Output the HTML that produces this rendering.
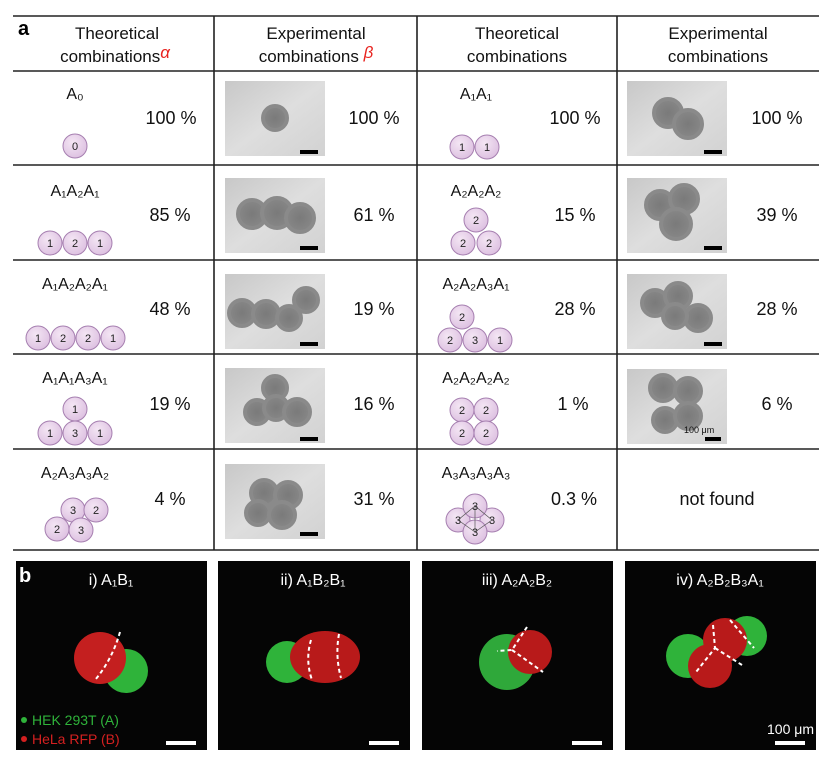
<!DOCTYPE html>
<html><head><meta charset="utf-8"><style>
html,body{margin:0;padding:0;background:#fff}
svg{display:block}
text{font-family:"Liberation Sans",Arial,sans-serif}
</style></head><body>
<svg width="831" height="760" viewBox="0 0 831 760" xmlns="http://www.w3.org/2000/svg">
<defs>
<radialGradient id="cell" cx="0.4" cy="0.35" r="0.7"><stop offset="0" stop-color="#f4e6f4"/><stop offset="1" stop-color="#dcbfe0"/></radialGradient>
<linearGradient id="bg" x1="0" y1="0" x2="1" y2="1"><stop offset="0" stop-color="#c8c8c8"/><stop offset="0.5" stop-color="#dedede"/><stop offset="1" stop-color="#d2d2d2"/></linearGradient>
<radialGradient id="blob" cx="0.5" cy="0.5" r="0.5"><stop offset="0" stop-color="#7a7a7a"/><stop offset="0.85" stop-color="#858585"/><stop offset="1" stop-color="#8c8c8c"/></radialGradient>
</defs>
<style>
.c{fill:url(#cell);stroke:#a67fb0;stroke-width:1}
.n{font-size:11px;text-anchor:middle;fill:#222}
.h{font-size:17px;text-anchor:middle;fill:#111}
.p{font-size:18px;text-anchor:middle;fill:#111}
.nm{font-size:16px;text-anchor:middle;fill:#111}
.b{fill:url(#blob);stroke:#8a8a8a;stroke-width:4}
</style>
<g stroke="#222" stroke-width="1.6">
<line x1="13" y1="16" x2="819" y2="16"/>
<line x1="13" y1="71" x2="819" y2="71"/>
<line x1="13" y1="165" x2="819" y2="165"/>
<line x1="13" y1="260" x2="819" y2="260"/>
<line x1="13" y1="354" x2="819" y2="354"/>
<line x1="13" y1="449" x2="819" y2="449"/>
<line x1="13" y1="550" x2="819" y2="550"/>
<line x1="214" y1="16" x2="214" y2="550"/>
<line x1="417" y1="16" x2="417" y2="550"/>
<line x1="617" y1="16" x2="617" y2="550"/>
</g>
<text x="18" y="35" font-size="20" font-weight="bold">a</text>
<text class="h" x="117" y="39">Theoretical</text>
<text class="h" x="115" y="62">combinations<tspan fill="#e8231f" font-style="italic" dy="-4">α</tspan></text>
<text class="h" x="316" y="39">Experimental</text>
<text class="h" x="316" y="62">combinations <tspan fill="#e8231f" font-style="italic" dy="-4">β</tspan></text>
<text class="h" x="517" y="39">Theoretical</text>
<text class="h" x="517" y="62">combinations</text>
<text class="h" x="718" y="39">Experimental</text>
<text class="h" x="718" y="62">combinations</text>

<text class="nm" x="75" y="99">A₀</text>
<text class="nm" x="75" y="196">A₁A₂A₁</text>
<text class="nm" x="75" y="289">A₁A₂A₂A₁</text>
<text class="nm" x="75" y="383">A₁A₁A₃A₁</text>
<text class="nm" x="75" y="478">A₂A₃A₃A₂</text>
<text class="nm" x="476" y="99">A₁A₁</text>
<text class="nm" x="476" y="196">A₂A₂A₂</text>
<text class="nm" x="476" y="289">A₂A₂A₃A₁</text>
<text class="nm" x="476" y="383">A₂A₂A₂A₂</text>
<text class="nm" x="476" y="478">A₃A₃A₃A₃</text>

<text class="p" x="171" y="124">100 %</text>
<text class="p" x="170" y="221">85 %</text>
<text class="p" x="170" y="315">48 %</text>
<text class="p" x="170" y="410">19 %</text>
<text class="p" x="170" y="505">4 %</text>
<text class="p" x="374" y="124">100 %</text>
<text class="p" x="374" y="221">61 %</text>
<text class="p" x="374" y="315">19 %</text>
<text class="p" x="374" y="410">16 %</text>
<text class="p" x="374" y="505">31 %</text>
<text class="p" x="575" y="124">100 %</text>
<text class="p" x="575" y="221">15 %</text>
<text class="p" x="575" y="315">28 %</text>
<text class="p" x="573" y="410">1 %</text>
<text class="p" x="574" y="505">0.3 %</text>
<text class="p" x="777" y="124">100 %</text>
<text class="p" x="777" y="221">39 %</text>
<text class="p" x="777" y="315">28 %</text>
<text class="p" x="777" y="410">6 %</text>
<text class="p" x="717" y="505">not found</text>

<g>
<circle class="c" cx="75" cy="146" r="12"/><text class="n" x="75" y="150">0</text>
<circle class="c" cx="50" cy="243" r="12"/><circle class="c" cx="75" cy="243" r="12"/><circle class="c" cx="100" cy="243" r="12"/>
<text class="n" x="50" y="247">1</text><text class="n" x="75" y="247">2</text><text class="n" x="100" y="247">1</text>
<circle class="c" cx="38" cy="338" r="12"/><circle class="c" cx="63" cy="338" r="12"/><circle class="c" cx="88" cy="338" r="12"/><circle class="c" cx="113" cy="338" r="12"/>
<text class="n" x="38" y="342">1</text><text class="n" x="63" y="342">2</text><text class="n" x="88" y="342">2</text><text class="n" x="113" y="342">1</text>
<circle class="c" cx="75" cy="409" r="12"/><circle class="c" cx="50" cy="433" r="12"/><circle class="c" cx="75" cy="433" r="12"/><circle class="c" cx="100" cy="433" r="12"/>
<text class="n" x="75" y="413">1</text><text class="n" x="50" y="437">1</text><text class="n" x="75" y="437">3</text><text class="n" x="100" y="437">1</text>
<circle class="c" cx="73" cy="510" r="12"/><circle class="c" cx="96" cy="510" r="12"/><circle class="c" cx="57" cy="529" r="12"/><circle class="c" cx="81" cy="530" r="12"/>
<text class="n" x="73" y="514">3</text><text class="n" x="96" y="514">2</text><text class="n" x="57" y="533">2</text><text class="n" x="81" y="534">3</text>

<circle class="c" cx="462" cy="147" r="12"/><circle class="c" cx="487" cy="147" r="12"/>
<text class="n" x="462" y="151">1</text><text class="n" x="487" y="151">1</text>
<circle class="c" cx="476" cy="220" r="12"/><circle class="c" cx="463" cy="243" r="12"/><circle class="c" cx="489" cy="243" r="12"/>
<text class="n" x="476" y="224">2</text><text class="n" x="463" y="247">2</text><text class="n" x="489" y="247">2</text>
<circle class="c" cx="462" cy="317" r="12"/><circle class="c" cx="450" cy="340" r="12"/><circle class="c" cx="475" cy="340" r="12"/><circle class="c" cx="500" cy="340" r="12"/>
<text class="n" x="462" y="321">2</text><text class="n" x="450" y="344">2</text><text class="n" x="475" y="344">3</text><text class="n" x="500" y="344">1</text>
<circle class="c" cx="462" cy="410" r="12"/><circle class="c" cx="486" cy="410" r="12"/><circle class="c" cx="462" cy="433" r="12"/><circle class="c" cx="486" cy="433" r="12"/>
<text class="n" x="462" y="414">2</text><text class="n" x="486" y="414">2</text><text class="n" x="462" y="437">2</text><text class="n" x="486" y="437">2</text>
<circle class="c" cx="458" cy="520" r="12"/><circle class="c" cx="492" cy="520" r="12"/><circle class="c" cx="475" cy="506" r="12"/><circle class="c" cx="475" cy="532" r="12"/>
<g stroke="#555" stroke-width="0.7" fill="none"><path d="M475 506 L458 520 L475 532 L492 520 Z M475 506 L475 532"/></g>
<text class="n" x="475" y="510">3</text><text class="n" x="458" y="524">3</text><text class="n" x="492" y="524">3</text><text class="n" x="475" y="536">3</text>
</g>

<g>
<rect x="225" y="81" width="100" height="75" fill="url(#bg)"/>
<circle class="b" cx="275" cy="118" r="12"/>
<rect x="300" y="150" width="18" height="4"/>

<rect x="225" y="178" width="100" height="75" fill="url(#bg)"/>
<circle class="b" cx="252" cy="214" r="14"/><circle class="b" cx="277" cy="213" r="15"/><circle class="b" cx="300" cy="218" r="14"/>
<rect x="300" y="246" width="18" height="4"/>

<rect x="225" y="274" width="100" height="75" fill="url(#bg)"/>
<circle class="b" cx="242" cy="313" r="13"/><circle class="b" cx="266" cy="314" r="13"/><circle class="b" cx="289" cy="318" r="12"/><circle class="b" cx="306" cy="300" r="12"/>
<rect x="300" y="342" width="18" height="4"/>

<rect x="225" y="368" width="100" height="75" fill="url(#bg)"/>
<circle class="b" cx="275" cy="388" r="12"/><circle class="b" cx="257" cy="412" r="12"/><circle class="b" cx="276" cy="408" r="12"/><circle class="b" cx="297" cy="412" r="13"/>
<rect x="300" y="437" width="18" height="4"/>

<rect x="225" y="464" width="100" height="75" fill="url(#bg)"/>
<circle class="b" cx="264" cy="493" r="13"/><circle class="b" cx="288" cy="495" r="13"/><circle class="b" cx="258" cy="513" r="12"/><circle class="b" cx="282" cy="515" r="13"/>
<rect x="300" y="532" width="18" height="4"/>

<rect x="627" y="81" width="100" height="75" fill="url(#bg)"/>
<circle class="b" cx="668" cy="113" r="14"/><circle class="b" cx="688" cy="124" r="14"/>
<rect x="704" y="150" width="18" height="4"/>

<rect x="627" y="178" width="100" height="75" fill="url(#bg)"/>
<circle class="b" cx="660" cy="205" r="14"/><circle class="b" cx="684" cy="199" r="14"/><circle class="b" cx="676" cy="224" r="15"/>
<rect x="704" y="246" width="18" height="4"/>

<rect x="627" y="274" width="100" height="75" fill="url(#bg)"/>
<circle class="b" cx="655" cy="303" r="13"/><circle class="b" cx="678" cy="296" r="13"/><circle class="b" cx="698" cy="318" r="13"/><circle class="b" cx="675" cy="316" r="12"/>
<rect x="704" y="342" width="18" height="4"/>

<rect x="627" y="369" width="100" height="75" fill="url(#bg)"/>
<circle class="b" cx="663" cy="388" r="13"/><circle class="b" cx="688" cy="391" r="13"/><circle class="b" cx="665" cy="420" r="12"/><circle class="b" cx="688" cy="416" r="13"/>
<text x="684" y="433" font-size="9" fill="#111">100 μm</text>
<rect x="705" y="437" width="16" height="4"/>
</g>

<g>
<rect x="16" y="561" width="191" height="189" fill="#050505"/>
<rect x="218" y="561" width="192" height="189" fill="#050505"/>
<rect x="422" y="561" width="191" height="189" fill="#050505"/>
<rect x="625" y="561" width="191" height="189" fill="#050505"/>
<text x="19" y="582" font-size="20" font-weight="bold" fill="#fff">b</text>
<text x="111" y="585" font-size="16" fill="#fff" text-anchor="middle">i) A₁B₁</text>
<text x="313" y="585" font-size="16" fill="#fff" text-anchor="middle">ii) A₁B₂B₁</text>
<text x="517" y="585" font-size="16" fill="#fff" text-anchor="middle">iii) A₂A₂B₂</text>
<text x="720" y="585" font-size="16" fill="#fff" text-anchor="middle">iv) A₂B₂B₃A₁</text>

<circle cx="126" cy="671" r="22" fill="#2fb33a"/>
<circle cx="100" cy="658" r="26" fill="#c41f1f"/>
<path d="M120 632 Q112 660 95 680" stroke="#fff" stroke-width="2" stroke-dasharray="4 3" fill="none"/>
<circle cx="287" cy="662" r="21" fill="#2fb33a"/>
<ellipse cx="325" cy="657" rx="35" ry="26" fill="#b81a1a"/>
<path d="M311 640 Q305 660 312 680 M339 634 Q335 656 341 678" stroke="#fff" stroke-width="2" stroke-dasharray="4 3" fill="none"/>
<circle cx="507" cy="662" r="28" fill="#2fa83a"/>
<circle cx="530" cy="652" r="22" fill="#b81a1a"/>
<path d="M527 627 L512 650 L497 651 M512 650 L543 672" stroke="#fff" stroke-width="2" stroke-dasharray="4 3" fill="none"/>
<circle cx="688" cy="656" r="22" fill="#2fb33a"/>
<circle cx="747" cy="636" r="20" fill="#2fb33a"/>
<circle cx="725" cy="640" r="22" fill="#b81a1a"/>
<circle cx="710" cy="666" r="22" fill="#b81a1a"/>
<path d="M713 625 L715 648 L696 672 M715 648 L742 665 M730 620 L754 648" stroke="#fff" stroke-width="2" stroke-dasharray="4 3" fill="none"/>

<circle cx="24" cy="720" r="3" fill="#2fb33a"/>
<text x="32" y="725" font-size="14" fill="#2fb33a">HEK 293T (A)</text>
<circle cx="24" cy="739" r="3" fill="#d42020"/>
<text x="32" y="744" font-size="14" fill="#d42020">HeLa RFP (B)</text>
<rect x="166" y="741" width="30" height="4" fill="#fff"/>
<rect x="369" y="741" width="30" height="4" fill="#fff"/>
<rect x="572" y="741" width="30" height="4" fill="#fff"/>
<rect x="775" y="741" width="30" height="4" fill="#fff"/>
<text x="814" y="734" font-size="14" fill="#fff" text-anchor="end">100 μm</text>
</g>
</svg>
</body></html>
